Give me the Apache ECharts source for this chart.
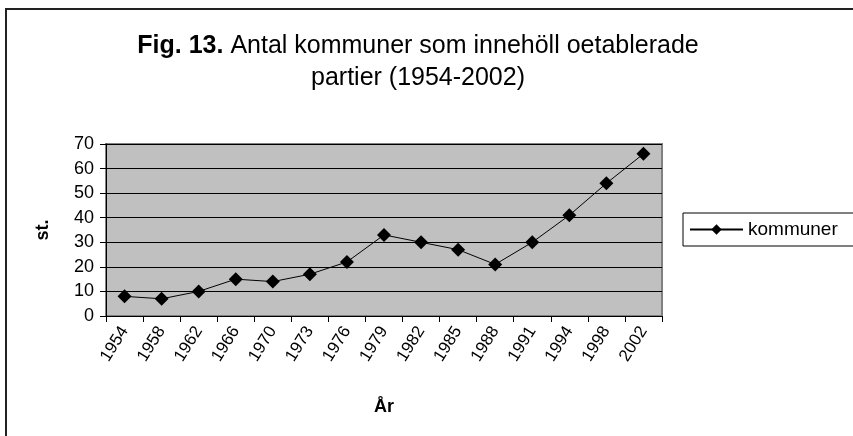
<!DOCTYPE html>
<html>
<head>
<meta charset="utf-8">
<script src="https://cdn.jsdelivr.net/npm/echarts@6/dist/echarts.min.js"></script>
<style>
  html, body { margin: 0; padding: 0; background: #fff; }
  #chart { width: 853px; height: 436px; }
</style>
</head>
<body>
<div id="chart"></div>
<script>
  // data
  const years = ['1954', '1958', '1962', '1966', '1970', '1973', '1976', '1979', '1982', '1985', '1988', '1991', '1994', '1998', '2002']
  const kommuner = [8, 7, 10, 15, 14, 17, 22, 33, 30, 27, 21, 30, 41, 54, 66]
  const yTicks = [0, 10, 20, 30, 40, 50, 60, 70]

  const font = 'Liberation Sans, Arial, sans-serif'
  const chart = echarts.init(document.getElementById('chart'))

  chart.setOption({
    backgroundColor: '#fff',
    animation: false,
    title: {
      text: '{b|Fig. 13.} Antal kommuner som innehöll oetablerade\npartier (1954-2002)',
      left: 413,
      top: 25,
      textAlign: 'center',
      textStyle: {
        fontFamily: font,
        fontSize: 25,
        fontWeight: 'normal',
        color: '#000',
        lineHeight: 32,
        align: 'center',
        rich: {
          b: { fontFamily: font, fontSize: 25, fontWeight: 'bold', color: '#000', lineHeight: 32 }
        }
      }
    },
    graphic: [{
      // outer frame of the figure
      type: 'rect',
      shape: { x: 6, y: 9, width: 900, height: 500 },
      style: { fill: 'none', stroke: '#222', lineWidth: 2 },
      silent: true
    }],
    legend: {
      left: 683,
      top: 213,
      orient: 'vertical',
      itemWidth: 53,
      itemHeight: 13,
      itemGap: 6,
      padding: [7, 40, 7, 6],
      borderColor: '#000',
      borderWidth: 1,
      textStyle: { fontFamily: font, fontSize: 19, color: '#000' },
      data: ['kommuner']
    },
    grid: {
      left: 106,
      top: 144,
      width: 556,
      height: 172,
      show: true,
      backgroundColor: '#c0c0c0',
      borderColor: '#808080',
      borderWidth: 2
    },
    xAxis: {
      type: 'category',
      data: years,
      boundaryGap: true,
      name: 'År',
      nameLocation: 'middle',
      nameGap: 82,
      nameTextStyle: { fontFamily: font, fontSize: 18, fontWeight: 'bold', color: '#000' },
      axisLine: { lineStyle: { color: '#000', width: 1 } },
      axisTick: { show: true, length: 6, alignWithLabel: false, lineStyle: { color: '#000' } },
      axisLabel: {
        interval: 0,
        rotate: 58,
        margin: 12,
        fontFamily: font,
        fontSize: 17,
        color: '#000'
      },
      splitLine: { show: false }
    },
    yAxis: {
      type: 'value',
      min: yTicks[0],
      max: yTicks[yTicks.length - 1],
      interval: 10,
      name: 'st.',
      nameLocation: 'middle',
      nameRotate: 90,
      nameGap: 54,
      nameTextStyle: { fontFamily: font, fontSize: 18, fontWeight: 'bold', color: '#000' },
      axisLine: { show: true, lineStyle: { color: '#000', width: 1 } },
      axisTick: { show: true, length: 6, lineStyle: { color: '#000' } },
      axisLabel: { margin: 12, fontFamily: font, fontSize: 18, color: '#000' },
      splitLine: { show: true, lineStyle: { color: '#000', width: 1 } }
    },
    series: [{
      name: 'kommuner',
      type: 'line',
      data: kommuner,
      symbol: 'diamond',
      symbolSize: 14,
      itemStyle: { color: '#000' },
      lineStyle: { color: '#000', width: 1 }
    }]
  })
</script>
</body>
</html>
